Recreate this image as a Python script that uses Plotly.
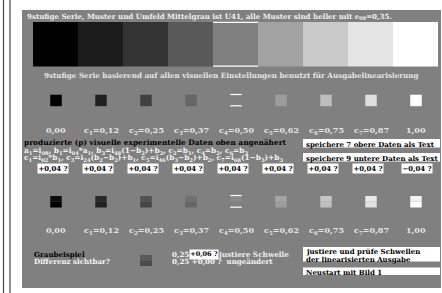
import plotly.graph_objects as go

# ---------------- data ----------------
strip_levels = [0, 27, 51, 89, 128, 162, 202, 229, 255]
row1_levels = [0, 32, 64, 102, 128, 156, 190, 222, 255]
row2_top = [13, 42, 80, 112, 138, 165, 197, 232, 242]
row2_bottom = [0, 34, 69, 102, 128, 158, 190, 224, 255]
value_labels = ["0,00", "c<sub>1</sub>=0,12", "c<sub>2</sub>=0,25", "c<sub>3</sub>=0,37",
                "c<sub>4</sub>=0,50", "c<sub>5</sub>=0,62", "c<sub>6</sub>=0,75",
                "c<sub>7</sub>=0,87", "1,00"]
offset_labels = ["+0,04 ?"] * 8 + ["\u22120,04 ?"]
marked_index = 4
sample_top, sample_bottom = 90, 76

title1 = "9stufige Serie, Muster und Umfeld Mittelgrau ist U41, alle Muster sind heller mit e<sub>08</sub>=0,35."
title2 = "9stufige Serie basierend auf allen visuellen Einstellungen benutzt für Ausgabelinearisierung"
para = ["produzierte (p) visuelle experimentelle Daten oben angenähert",
        "a<sub>1</sub>=i<sub>08</sub>, b<sub>1</sub>=i<sub>04</sub>*a<sub>1</sub>, b<sub>3</sub>=i<sub>48</sub>(1\u2212b<sub>2</sub>)+b<sub>2</sub>, c<sub>2</sub>=b<sub>1</sub>, c<sub>4</sub>=b<sub>2</sub>, c<sub>6</sub>=b<sub>3</sub>",
        "c<sub>1</sub>=i<sub>02</sub>*b<sub>1</sub>, c<sub>3</sub>=i<sub>24</sub>(b<sub>2</sub>\u2212b<sub>2</sub>)+b<sub>1</sub>, c<sub>5</sub>=i<sub>46</sub>(b<sub>3</sub>\u2212b<sub>2</sub>)+b<sub>2</sub>, c<sub>7</sub>=i<sub>68</sub>(1\u2212b<sub>3</sub>)+b<sub>3</sub>"]
right_boxes = [["speichere 7 obere Daten als Text"], ["speichere 9 untere Daten als Text"],
               ["justiere und prüfe Schwellen", "der linearisierten Ausgabe"], ["Neustart mit Bild 1"]]

# ---------------- layout helpers ----------------
W, H = 442, 293
BG = "#808080"
FONT = "DejaVu Serif"
shapes = []
ann = []


def g(v):
    return f"rgb({v},{v},{v})"


def rect(x0, y0, x1, y1, color):
    shapes.append(dict(type="rect", xref="x", yref="y", x0=x0, y0=y0, x1=x1, y1=y1,
                       fillcolor=color, line=dict(width=0), layer="below"))


def hline(x0, x1, y, color="white", w=1.2):
    shapes.append(dict(type="line", xref="x", yref="y", x0=x0, x1=x1, y0=y, y1=y,
                       line=dict(color=color, width=w)))


def text(x, y, s, size=9, color="black", xanchor="left", bg=None, pad=0):
    # y is the visual centre of the main-size letters; anchor at top so that
    # subscripts (which only extend downwards) do not shift the baseline
    a = dict(x=x, y=y - 0.6 * size, xref="x", yref="y", text=f"<b>{s}</b>", showarrow=False,
             xanchor=xanchor, yanchor="top", borderpad=pad,
             font=dict(family=FONT, size=size, color=color))
    if bg:
        a.update(bgcolor=bg)
    ann.append(a)


# left double lines
for lx in (3.5, 10):
    shapes.append(dict(type="line", xref="x", yref="y", x0=lx, x1=lx, y0=0, y1=H,
                       line=dict(color="#444", width=1.2)))

# panel
rect(22, 10, 441, 288, BG)

# top strip
sw = 45
x_start = 33
for i, v in enumerate(strip_levels):
    rect(x_start + i * sw, 22, x_start + (i + 1) * sw, 66.5, g(v))
mx0 = x_start + marked_index * sw
hline(mx0, mx0 + sw, 22.3)
hline(mx0, mx0 + sw, 66.2)
text(26, 15.5, title1, size=7.1, color="#f0f0f0")
text(231, 74.5, title2, size=7.2, color="#e6e6e6", xanchor="center")

centers = [56 + 45 * i for i in range(9)]
sq = 11.5

# row 1 squares
for i, (c, v) in enumerate(zip(centers, row1_levels)):
    if i == marked_index:
        hline(c - sq / 2, c + sq / 2, 94.5)
        hline(c - sq / 2, c + sq / 2, 105.8)
    else:
        rect(c - sq / 2, 94.7, c + sq / 2, 106.2, g(v))
    text(c, 128.5, value_labels[i], size=8.0, color="#e4e4e4", xanchor="center")

# paragraph
text(23, 141.7, para[0], size=7.4, color="black")
text(23, 149, para[1], size=7.4, color="#f4f4f4")
text(23, 156.3, para[2], size=7.4, color="#f4f4f4")

# right boxes
box_specs = [(139, 147.5), (153, 161.5), (247, 261.5), (267.5, 275)]
for (y0, y1), lines in zip(box_specs, right_boxes):
    rect(303, y0, 440, y1, "white")
    n = len(lines)
    for k, s in enumerate(lines):
        yc = (y0 + y1) / 2 + (k - (n - 1) / 2) * 7.2
        text(305, yc, s, size=7.0, color="black")

# offsets row
for i, (c, s) in enumerate(zip(centers, offset_labels)):
    text(c - 3.5 + (4 if i == 8 else 0), 167, s, size=6.9, color="black", xanchor="center",
         bg="white", pad=0.5)

# row 2 squares (two-tone)
for i, (c, vt, vb) in enumerate(zip(centers, row2_top, row2_bottom)):
    rect(c - sq / 2, 196, c + sq / 2, 201.8, g(vt))
    rect(c - sq / 2, 201.8, c + sq / 2, 207.5, g(vb))
    if i == marked_index:
        hline(c - sq / 2, c + sq / 2, 195.5)
        hline(c - sq / 2, c + sq / 2, 207.2)
    text(c, 228.5, value_labels[i], size=8.0, color="#e4e4e4", xanchor="center")

# bottom sample
text(33, 253, "Graubeispiel", size=7.1, color="black")
text(33, 260, "Differenz sichtbar?", size=7.1, color="#f4f4f4")
rect(140, 255, 152, 260.5, g(sample_top))
rect(140, 260.5, 152, 266, g(sample_bottom))
text(171, 253, "0,25", size=7.1, color="#f4f4f4")
text(189, 253, "+0,06 ?", size=6.5, color="black", bg="white", pad=0.3)
text(217, 253, "justiere Schwelle", size=7.3, color="#eeeeee")
text(171, 260, "0,25 +0,00 ?  ungeändert", size=7.1, color="#f4f4f4")

fig = go.Figure()
fig.add_trace(go.Scatter(x=[0, W], y=[0, H], mode="markers", marker=dict(opacity=0),
                         hoverinfo="skip", showlegend=False))
fig.update_layout(
    width=W, height=H, margin=dict(l=0, r=0, t=0, b=0),
    paper_bgcolor="white", plot_bgcolor="white",
    xaxis=dict(range=[0, W], visible=False, fixedrange=True),
    yaxis=dict(range=[H, 0], visible=False, fixedrange=True),
    shapes=shapes, annotations=ann, showlegend=False,
)
fig.write_html("out.html", config={"displayModeBar": False},
               post_script="document.body.style.margin='0';document.body.style.overflow='hidden';")
